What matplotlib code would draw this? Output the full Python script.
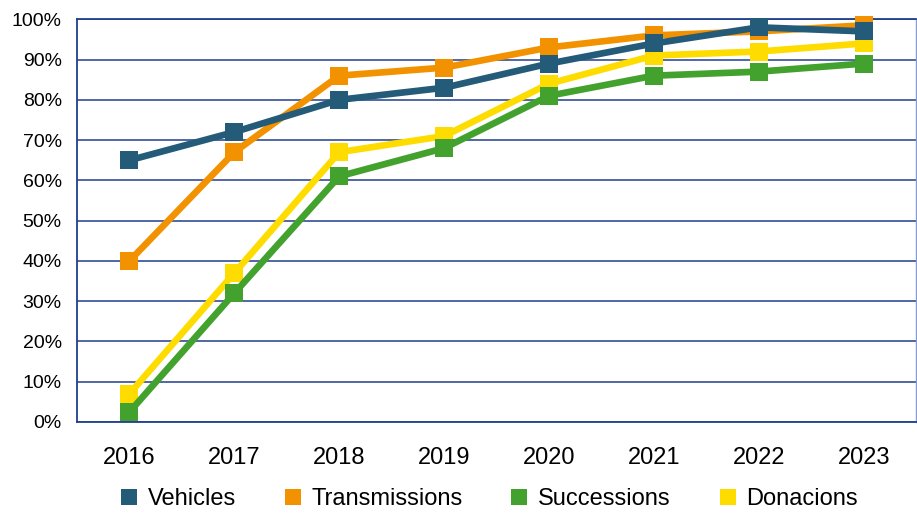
import matplotlib
matplotlib.use('Agg')
import matplotlib.pyplot as plt
from matplotlib.lines import Line2D
from matplotlib.ticker import FuncFormatter

plt.rcParams['font.family'] = ['Liberation Sans', 'DejaVu Sans']

years = ['2016', '2017', '2018', '2019', '2020', '2021', '2022', '2023']
vehicles = [65, 72, 80, 83, 89, 94, 98, 97]
transmissions = [40, 67, 86, 88, 93, 96, 97, 98.5]
successions = [2.5, 32, 61, 68, 81, 86, 87, 89]
donacions = [7, 37, 67, 71, 84, 91, 92, 94]

series = [
    ('Vehicles', vehicles, '#245b79'),
    ('Transmissions', transmissions, '#f39200'),
    ('Successions', successions, '#43a22e'),
    ('Donacions', donacions, '#ffdc00'),
]

grid_color = '#203f8c'

fig = plt.figure(figsize=(9.17, 5.13), dpi=100)
ax = fig.add_axes([0.084, 0.1774, 0.915, 0.785])

x = list(range(len(years)))
handles = []
for i, (name, vals, color) in enumerate(series):
    # la primera sèrie queda per sobre
    ax.plot(x, vals, color=color, linewidth=4.8, marker='s', markersize=13,
            markeredgewidth=0, zorder=10 - i, clip_on=False)
    handles.append(Line2D([], [], linestyle='none', marker='s', markersize=12,
                          markeredgewidth=0, color=color, label=name))

ax.set_xlim(-0.5, len(years) - 0.5)
ax.set_ylim(0, 100)
ax.set_yticks(range(0, 101, 10))
ax.yaxis.set_major_formatter(FuncFormatter(lambda v, p: f'{int(v)}%'))
ax.set_xticks(x)
ax.set_xticklabels(years)
ax.tick_params(axis='y', length=0, pad=11, labelsize=14)
ax.tick_params(axis='x', length=0, pad=18, labelsize=17)
ax.grid(axis='y', color=grid_color, linewidth=1.1)
ax.set_axisbelow(True)
for side in ['left', 'bottom', 'top']:
    ax.spines[side].set_color(grid_color)
    ax.spines[side].set_linewidth(1.3)
ax.spines['right'].set_color('#8a9ccc')
ax.spines['right'].set_linewidth(1.0)

fig.legend(handles=handles, loc='lower center', bbox_to_anchor=(0.533, -0.022),
           ncol=4, frameon=False, fontsize=17, handlelength=0.8,
           handletextpad=0.4, columnspacing=2.0, borderaxespad=0.2)

fig.savefig('out.png', dpi=100)
